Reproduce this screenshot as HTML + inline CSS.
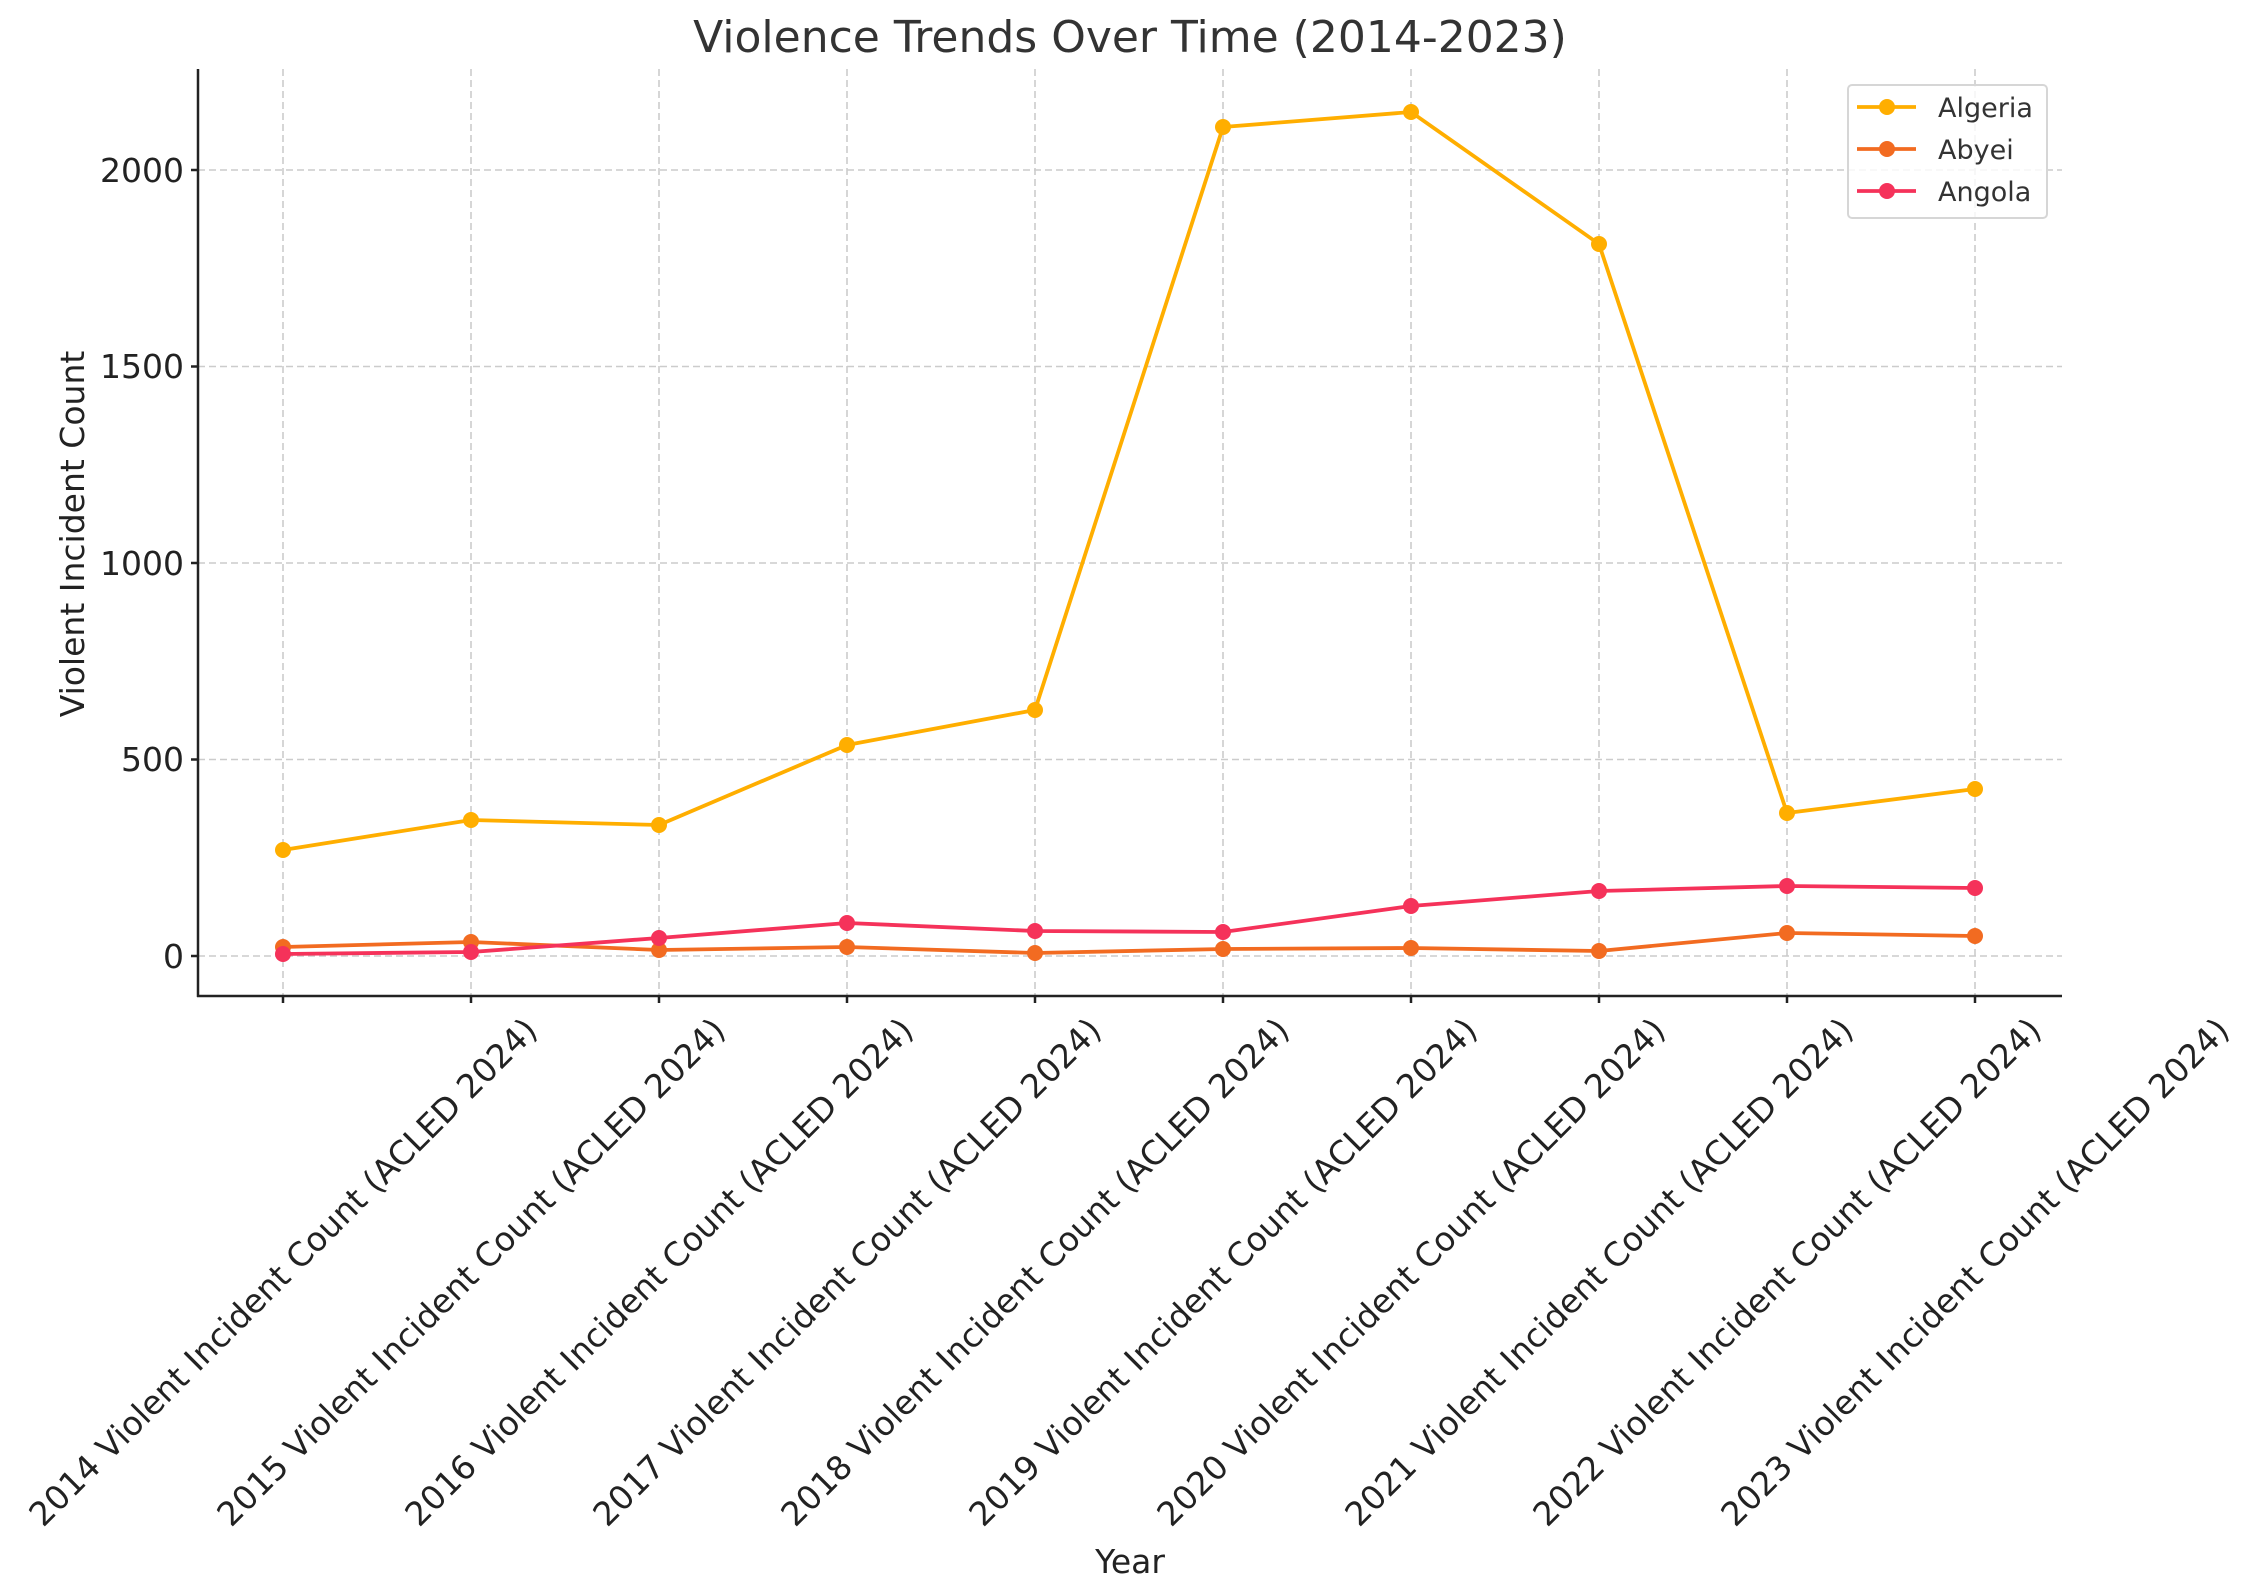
<!DOCTYPE html>
<html><head><meta charset="utf-8"><style>
html,body{margin:0;padding:0;background:#fff;}
svg{display:block;font-family:"DejaVu Sans","Liberation Sans",sans-serif;}
</style></head><body>
<svg id="c" width="2255" height="1593" viewBox="0 0 2255 1593" xmlns="http://www.w3.org/2000/svg">
<rect width="2255" height="1593" fill="#fff"/>
<g stroke="#cccccc" stroke-width="1.6" stroke-dasharray="7,4">
<line x1="283" y1="69" x2="283" y2="996"/><line x1="471" y1="69" x2="471" y2="996"/><line x1="659" y1="69" x2="659" y2="996"/><line x1="847" y1="69" x2="847" y2="996"/><line x1="1035" y1="69" x2="1035" y2="996"/><line x1="1223" y1="69" x2="1223" y2="996"/><line x1="1411" y1="69" x2="1411" y2="996"/><line x1="1599" y1="69" x2="1599" y2="996"/><line x1="1787" y1="69" x2="1787" y2="996"/><line x1="1975" y1="69" x2="1975" y2="996"/>
<line x1="198" y1="956" x2="2062" y2="956"/><line x1="198" y1="759.5" x2="2062" y2="759.5"/><line x1="198" y1="563" x2="2062" y2="563"/><line x1="198" y1="366.5" x2="2062" y2="366.5"/><line x1="198" y1="170" x2="2062" y2="170"/>
</g>
<g stroke="#222" stroke-width="2.5">
<line x1="198" y1="69" x2="198" y2="997"/><line x1="197" y1="996" x2="2062" y2="996"/>
<line x1="191" y1="956" x2="198" y2="956"/><line x1="191" y1="759.5" x2="198" y2="759.5"/><line x1="191" y1="563" x2="198" y2="563"/><line x1="191" y1="366.5" x2="198" y2="366.5"/><line x1="191" y1="170" x2="198" y2="170"/>
<line x1="283" y1="996" x2="283" y2="1003"/><line x1="471" y1="996" x2="471" y2="1003"/><line x1="659" y1="996" x2="659" y2="1003"/><line x1="847" y1="996" x2="847" y2="1003"/><line x1="1035" y1="996" x2="1035" y2="1003"/><line x1="1223" y1="996" x2="1223" y2="1003"/><line x1="1411" y1="996" x2="1411" y2="1003"/><line x1="1599" y1="996" x2="1599" y2="1003"/><line x1="1787" y1="996" x2="1787" y2="1003"/><line x1="1975" y1="996" x2="1975" y2="1003"/>
</g>
<g font-size="33" fill="#222" text-anchor="end">
<text x="184" y="968">0</text><text x="184" y="771">500</text><text x="184" y="575">1000</text><text x="184" y="378">1500</text><text x="184" y="182">2000</text>
</g>
<g font-size="33" fill="#222" text-anchor="middle" dominant-baseline="central">
<text transform="translate(283,1272) rotate(-45)">2014 Violent Incident Count (ACLED 2024)</text>
<text transform="translate(471,1272) rotate(-45)">2015 Violent Incident Count (ACLED 2024)</text>
<text transform="translate(659,1272) rotate(-45)">2016 Violent Incident Count (ACLED 2024)</text>
<text transform="translate(847,1272) rotate(-45)">2017 Violent Incident Count (ACLED 2024)</text>
<text transform="translate(1035,1272) rotate(-45)">2018 Violent Incident Count (ACLED 2024)</text>
<text transform="translate(1223,1272) rotate(-45)">2019 Violent Incident Count (ACLED 2024)</text>
<text transform="translate(1411,1272) rotate(-45)">2020 Violent Incident Count (ACLED 2024)</text>
<text transform="translate(1599,1272) rotate(-45)">2021 Violent Incident Count (ACLED 2024)</text>
<text transform="translate(1787,1272) rotate(-45)">2022 Violent Incident Count (ACLED 2024)</text>
<text transform="translate(1975,1272) rotate(-45)">2023 Violent Incident Count (ACLED 2024)</text>
</g>
<text x="1130" y="1573" font-size="33" fill="#222" text-anchor="middle">Year</text>
<text transform="translate(84,534) rotate(-90)" font-size="33" fill="#222" text-anchor="middle">Violent Incident Count</text>
<text x="1130" y="52" font-size="44" fill="#333" text-anchor="middle">Violence Trends Over Time (2014-2023)</text>
<g fill="none" stroke-width="3.8" stroke-linejoin="round">
<polyline stroke="#F26B21" points="283,947 471,942 659,950 847,947 1035,953 1223,949 1411,948 1599,951 1787,933 1975,936"/>
<polyline stroke="#F5325A" points="283,954 471,952 659,938 847,923 1035,931 1223,932 1411,906 1599,891 1787,886 1975,888"/>
<polyline stroke="#FFAE00" points="283,850 471,820 659,825 847,745 1035,710 1223,127 1411,112 1599,244 1787,813 1975,789"/>
</g>
<g fill="#F26B21"><circle cx="283" cy="947" r="8"/><circle cx="471" cy="942" r="8"/><circle cx="659" cy="950" r="8"/><circle cx="847" cy="947" r="8"/><circle cx="1035" cy="953" r="8"/><circle cx="1223" cy="949" r="8"/><circle cx="1411" cy="948" r="8"/><circle cx="1599" cy="951" r="8"/><circle cx="1787" cy="933" r="8"/><circle cx="1975" cy="936" r="8"/></g>
<g fill="#F5325A"><circle cx="283" cy="954" r="8"/><circle cx="471" cy="952" r="8"/><circle cx="659" cy="938" r="8"/><circle cx="847" cy="923" r="8"/><circle cx="1035" cy="931" r="8"/><circle cx="1223" cy="932" r="8"/><circle cx="1411" cy="906" r="8"/><circle cx="1599" cy="891" r="8"/><circle cx="1787" cy="886" r="8"/><circle cx="1975" cy="888" r="8"/></g>
<g fill="#FFAE00"><circle cx="283" cy="850" r="8"/><circle cx="471" cy="820" r="8"/><circle cx="659" cy="825" r="8"/><circle cx="847" cy="745" r="8"/><circle cx="1035" cy="710" r="8"/><circle cx="1223" cy="127" r="8"/><circle cx="1411" cy="112" r="8"/><circle cx="1599" cy="244" r="8"/><circle cx="1787" cy="813" r="8"/><circle cx="1975" cy="789" r="8"/></g>
<rect x="1848" y="85" width="199" height="133" rx="4" fill="#fff" fill-opacity="0.8" stroke="#d6d6d6" stroke-width="2"/>
<g stroke-width="3.8"><line x1="1857" y1="107" x2="1916" y2="107" stroke="#FFAE00"/><line x1="1857" y1="149" x2="1916" y2="149" stroke="#F26B21"/><line x1="1857" y1="191" x2="1916" y2="191" stroke="#F5325A"/></g>
<circle cx="1887" cy="107" r="8" fill="#FFAE00"/><circle cx="1887" cy="149" r="8" fill="#F26B21"/><circle cx="1887" cy="191" r="8" fill="#F5325A"/>
<g font-size="27" fill="#333"><text x="1938" y="117">Algeria</text><text x="1938" y="159">Abyei</text><text x="1938" y="201">Angola</text></g>
</svg>
</body></html>
